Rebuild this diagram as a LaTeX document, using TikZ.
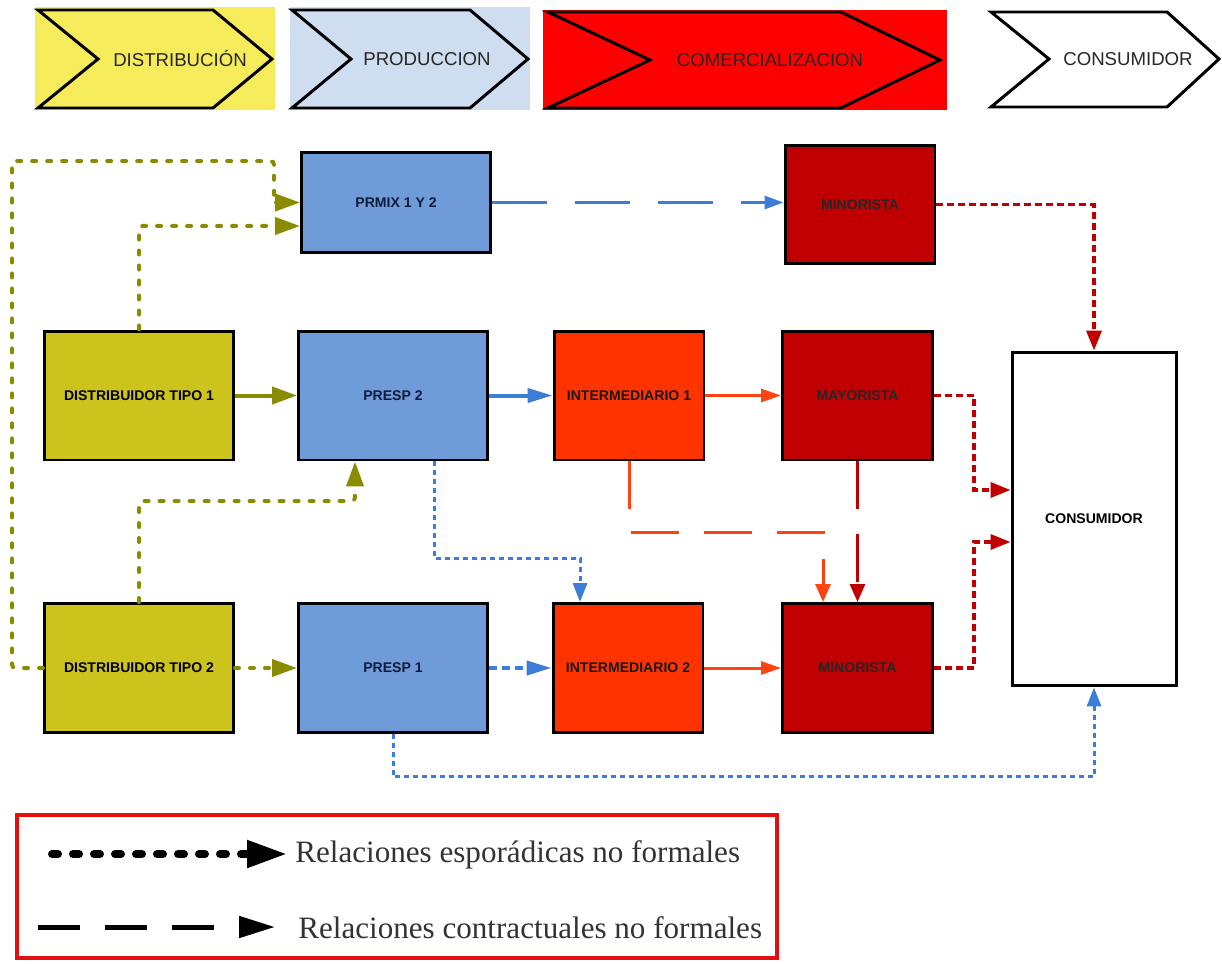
\documentclass[tikz,border=0pt]{standalone}
\usepackage{fontspec}
\setmainfont{Liberation Serif}
\setsansfont{Liberation Sans}
\usepackage{xcolor}
\usepackage{tikz}
\usetikzlibrary{arrows.meta,positioning,calc}

\definecolor{hdryellow}{HTML}{F6EB5B}
\definecolor{hdrblue}{HTML}{CFDDF0}
\definecolor{hdrred}{HTML}{FF0000}
\definecolor{distfill}{HTML}{CCC41C}
\definecolor{oliveline}{HTML}{8A8C00}
\definecolor{prodfill}{HTML}{6F9BD8}
\definecolor{prodtext}{HTML}{0E1C3C}
\definecolor{blueline}{HTML}{3C7DD8}
\definecolor{interfill}{HTML}{FF3300}
\definecolor{orangeline}{HTML}{FF4412}
\definecolor{retailfill}{HTML}{C00000}
\definecolor{redline}{HTML}{C00000}
\definecolor{legred}{HTML}{E41010}

\begin{document}
\begin{tikzpicture}[x=0.02cm, y=-0.02cm,
    hdr/.style={font=\sffamily\fontsize{10.6}{12}\selectfont, text=black!85, inner sep=0pt},
    chev/.style={draw=black, line width=1.7pt, line join=miter},
    box/.style={draw, line width=1.7pt, inner sep=0pt, align=center,
      font=\sffamily\bfseries\fontsize{8}{9.6}\selectfont},
    wide/.style={box, minimum width=3.78cm, minimum height=2.58cm},
    slim/.style={box, minimum width=3cm, minimum height=2.58cm},
    dist/.style={wide, fill=distfill},
    prod/.style={wide, fill=prodfill, text=prodtext},
    inter/.style={slim, fill=interfill, text=black!90},
    retail/.style={slim, fill=retailfill, text=black!85},
    oline/.style={-{Triangle[length=0.5cm,width=0.34cm]}, draw=oliveline, line width=0.08cm},
    odot/.style={oline, dash pattern=on 0.08cm off 0.22cm, line cap=round, rounded corners=2pt},
    bline/.style={-{Triangle[length=0.5cm,width=0.28cm]}, draw=blueline, line width=0.08cm},
    bdotthick/.style={bline, dash pattern=on 0.16cm off 0.1cm},
    bdot/.style={-{Triangle[length=0.38cm,width=0.28cm]}, draw=blueline, line width=0.06cm,
      dash pattern=on 0.1cm off 0.08cm},
    bdash/.style={-{Triangle[length=0.38cm,width=0.26cm]}, draw=blueline, line width=0.06cm,
      dash pattern=on 1.1cm off 0.56cm},
    rline/.style={-{Triangle[length=0.4cm,width=0.26cm]}, draw=orangeline, line width=0.06cm},
    odash/.style={-{Triangle[length=0.36cm,width=0.3cm]}, draw=orangeline, line width=0.06cm,
      dash pattern=on 0.96cm off 0.5cm},
    rdash/.style={odash, draw=redline},
    rdot/.style={-{Triangle[length=0.4cm,width=0.3cm]}, draw=redline, line width=0.07cm,
      dash pattern=on 0.14cm off 0.08cm},
    legtext/.style={font=\fontsize{17.7}{20}\selectfont, text=black!80, inner sep=0pt, anchor=west},
    legdot/.style={-{Triangle[length=0.8cm,width=0.52cm]}, line width=0.16cm, line cap=round,
      dash pattern=on 0.12cm off 0.3cm, shorten >=0.16cm},
    legdash/.style={-{Triangle[length=0.72cm,width=0.42cm]}, line width=0.1cm,
      dash pattern=on 0.84cm off 0.5cm, shorten >=0.46cm},
  ]
    \useasboundingbox (0,0) rectangle (1222,963);

    % Header
    \fill[hdryellow] (35,7) rectangle (275,110);
    \draw[chev] (38,10) -- (213,10) -- (272,59) -- (213,108) -- (38,108) -- (98,59) -- cycle;
    \node[hdr] (hdist) at (180,59) {DISTRIBUCIÓN};
    \fill[hdrblue] (290,7) rectangle (530,110);
    \draw[chev] (292,10) -- (470,10) -- (528,59) -- (470,108) -- (292,108) -- (351,59) -- cycle;
    \node[hdr] (hprod) at (427,59) {PRODUCCION};
    \fill[hdrred] (543,10) rectangle (947,110);
    \draw[chev] (548,12) -- (841,12) -- (940,60) -- (841,108) -- (548,108) -- (650,60) -- cycle;
    \node[hdr] (hcom) at (770,60) {COMERCIALIZACION};
    \draw[chev] (991,12) -- (1167,12) -- (1219,59) -- (1167,107) -- (991,107) -- (1049,59) -- cycle;
    \node[hdr] (hcons) at (1128,59) {CONSUMIDOR};

    % Distribution
    \node[dist] (dist1) at (139,395.5) {DISTRIBUIDOR TIPO 1};
    \node[dist] (dist2) at (139,668) {DISTRIBUIDOR TIPO 2};

    % Production
    \node[prod, minimum height=2.02cm] (prmix) at (396,202.5) {PRMIX 1 Y 2};
    \node[prod] (presp2) at (393,395.5) {PRESP 2};
    \node[prod] (presp1) at (393,668) {PRESP 1};

    % Trade
    \node[inter] (inter1) at (629,395.5) {INTERMEDIARIO 1};
    \node[inter] (inter2) at (628,668) {INTERMEDIARIO 2};
    \node[retail, minimum height=2.38cm] (mintop) at (860,204.5) {MINORISTA};
    \node[retail] (mayor) at (857.5,395.5) {MAYORISTA};
    \node[retail] (minbot) at (857.5,668) {MINORISTA};

    % Consumer
    \node[box, fill=white, minimum width=3.28cm, minimum height=6.68cm] (cons) at (1094,519) {CONSUMIDOR};

    % Arrows
    \draw[oline] (dist1) -- (presp2);
    \draw[odot] (dist2) -- (presp1);
    \draw[odot] (dist1.north) |- ([yshift=-0.47cm]prmix.west);
    \draw[odot] (dist2.north) -- ++(0,-101) -| ([xshift=-0.76cm]presp2.south);
    \draw[odot] (dist2.west) -| (12,161) -| (274,202.5) -- (prmix.west);

    \draw[bline] (presp2) -- (inter1);
    \draw[bdotthick] (presp1) -- (inter2);
    \draw[bdash] (prmix.east) -- (prmix.east -| mintop.west);
    \draw[bdot] ([xshift=0.82cm]presp2.south) -- ++(0,97) -| ([xshift=-0.96cm]inter2.north);
    \draw[bdot] (presp1.south) -- ++(0,43) -| (cons.south);

    \draw[rline] (inter1) -- (mayor);
    \draw[rline] (inter2) -- (minbot);
    \draw[odash] (inter1.south) -- ++(0,71) -| ([xshift=-0.69cm]minbot.north);
    \draw[rdash] (mayor) -- (minbot);
    \draw[rdot] (mintop.east) -| (cons.north);
    \draw[rdot] (mayor.east) -- ++(40,0) |- ([yshift=0.58cm]cons.west);
    \draw[rdot] (minbot.east) -- ++(40,0) |- ([yshift=-0.46cm]cons.west);

    % Legend
    \draw[legred, line width=0.07cm, fill=white] (17,815) rectangle (777,958);
    \node[legtext] (legtxtA) at (295,855) {Relaciones esporádicas no formales};
    \node[legtext] (legtxtB) at (298,928) {Relaciones contractuales no formales};
    \coordinate (legA) at (52,854);
    \coordinate (legB) at (38,927);
    \draw[legdot] (legA) -- (legtxtA.west |- legA);
    \draw[legdash] (legB) -- (legtxtB.west |- legB);
  \end{tikzpicture}
\end{document}
